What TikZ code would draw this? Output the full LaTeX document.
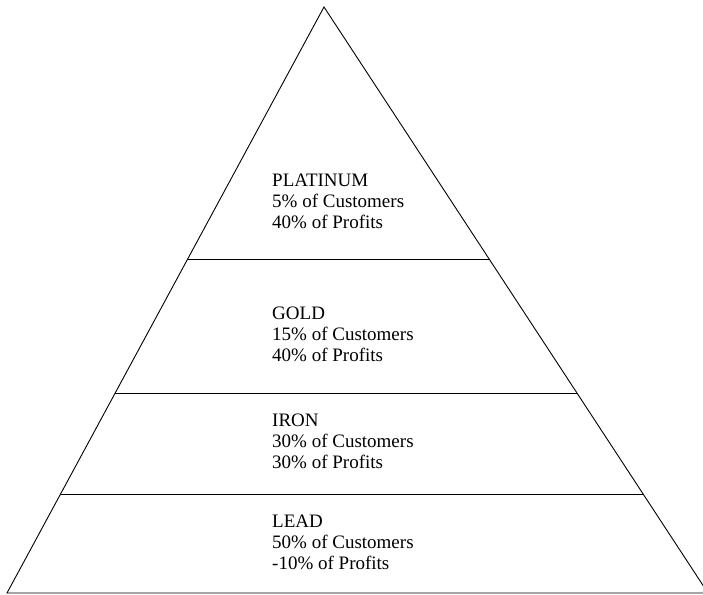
\documentclass[tikz,border=0pt]{standalone}
\usepackage{fontspec}
\setmainfont{Liberation Serif}
\usetikzlibrary{calc}
\begin{document}
\begin{tikzpicture}[x=1pt,y=1pt,
  edge/.style={line width=0.9pt,black},
  tier/.style={anchor=north west,align=left,inner sep=0pt,font=\fontsize{19}{21}\selectfont}]
\useasboundingbox (0,0) rectangle (703,594);
\coordinate (A) at (324,587);
\coordinate (L) at (7,1);
\coordinate (R) at (708,1);
\draw[edge] (L) -- (A) -- (R) -- cycle;
\coordinate (l1) at ($(A)!0.430!(L)$);
\coordinate (r1) at ($(A)!0.430!(R)$);
\coordinate (l2) at ($(A)!0.6587!(L)$);
\coordinate (r2) at ($(A)!0.6587!(R)$);
\coordinate (l3) at ($(A)!0.831!(L)$);
\coordinate (r3) at ($(A)!0.831!(R)$);
\draw[edge] (l1) -- (r1);
\draw[edge] (l2) -- (r2);
\draw[edge] (l3) -- (r3);
\node[tier] (plat) at (272,420) {PLATINUM\\5\% of Customers\\40\% of Profits};
\node[tier] (gold) at (272,287) {GOLD\\15\% of Customers\\40\% of Profits};
\node[tier] (iron) at (272,180) {IRON\\30\% of Customers\\30\% of Profits};
\node[tier] (lead) at (272,79) {LEAD\\50\% of Customers\\-10\% of Profits};
\end{tikzpicture}
\end{document}
